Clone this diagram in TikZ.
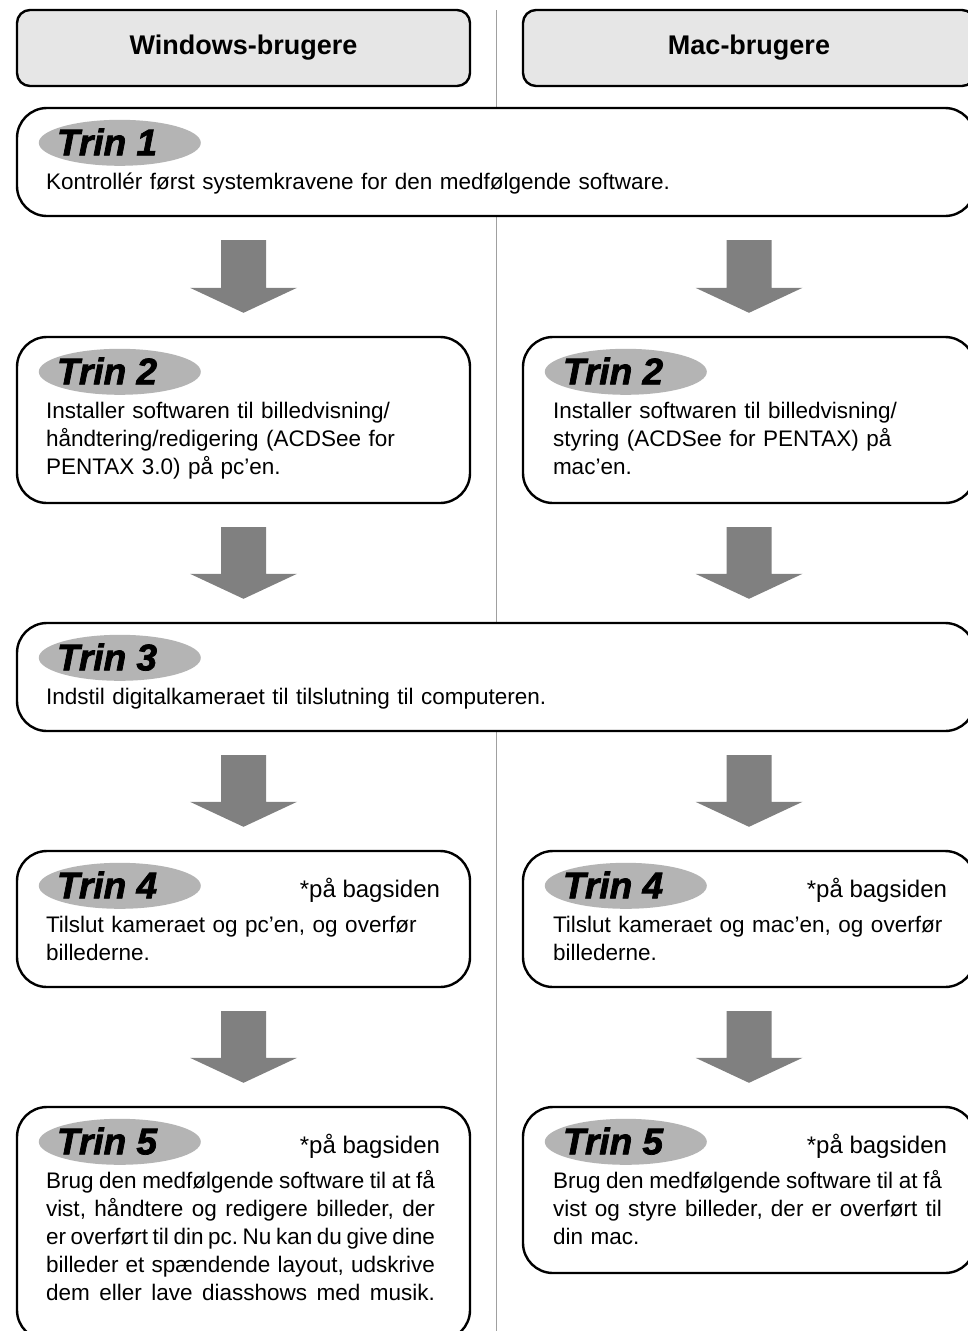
\documentclass[tikz,border=0pt]{standalone}
\usepackage{fontspec}
\setmainfont{Liberation Sans}
\newfontfamily\trinfont[BoldItalicFeatures={FakeBold=2}]{Liberation Sans}
\usetikzlibrary{positioning,calc,shapes.geometric}
\definecolor{hdGray}{RGB}{230,230,230}
\definecolor{tagGray}{RGB}{180,180,180}
\definecolor{arrowGray}{RGB}{128,128,128}
\definecolor{lineGray}{RGB}{160,160,160}
\frenchspacing
% one line set out to the full width of the box text
\newcommand\justline[1]{\leavevmode\hbox to 389pt{\spaceskip=6.25pt plus 6pt minus 3pt\relax #1}}

\begin{document}
\begin{tikzpicture}[
    x=1pt, y=-1pt,
    head box/.style={rectangle, rounded corners=13pt, draw=black, line width=2.4pt, fill=hdGray, minimum height=76pt, font=\fontsize{27}{32}\selectfont\bfseries},
    step box/.style={rectangle, rounded corners=30pt, draw=black, line width=2.4pt, fill=white},
    trin tag/.style={ellipse, fill=tagGray, minimum width=162pt, minimum height=46pt, inner sep=0pt},
    trin text/.style={anchor=base west, inner sep=0pt, font=\trinfont\bfseries\itshape\fontsize{37}{40}\selectfont},
    body text/.style={anchor=base west, inner sep=0pt, text width=440pt, align=left, font=\fontsize{22.5}{28}\selectfont},
    note text/.style={anchor=base east, inner sep=0pt, font=\fontsize{24}{28}\selectfont},
    flow arrow/.style={fill=arrowGray},
    divider/.style={draw=lineGray, line width=1pt}
]
  \useasboundingbox (0,0) rectangle (968,1331);
  \clip (0,0) rectangle (968,1331);
  \draw[divider] (496.5,10) -- (496.5,1331);

  % column heads
  \node[head box, minimum width=453pt] (hw) at (243.5,48) {Windows-brugere};
  \node[head box, minimum width=452pt] (hm) at (749,48) {Mac-brugere};

  % steps
  \node[step box, minimum width=958pt, minimum height=108pt] (t1) at (496,162) {};
  \node[step box, minimum width=453pt, minimum height=166pt] (t2w) at (243.5,420) {};
  \node[step box, minimum width=452pt, minimum height=166pt] (t2m) at (749,420) {};
  \node[step box, minimum width=958pt, minimum height=108pt] (t3) at (496,677) {};
  \node[step box, minimum width=453pt, minimum height=136pt] (t4w) at (243.5,919) {};
  \node[step box, minimum width=452pt, minimum height=136pt] (t4m) at (749,919) {};
  \node[step box, minimum width=453pt, minimum height=233pt] (t5w) at (243.5,1223.5) {};
  \node[step box, minimum width=452pt, minimum height=166pt] (t5m) at (749,1190) {};

  \foreach \b/\n in {t1/1, t2w/2, t2m/2, t3/3, t4w/4, t4m/4, t5w/5, t5m/5} {
    \node[trin tag] (tag-\b) at ($(\b.north west)+(104,36)$) {};
    \node[trin text] (lbl-\b) at ($(\b.north west)+(41,48.5)$) {Trin \n};
  }

  \node[body text, text width=900pt] (txt-t1) at ($(t1.north west)+(30,82.5)$) {Kontrollér først systemkravene for den medfølgende software.};
  \node[body text] (txt-t2w) at ($(t2w.north west)+(30,82.5)$) {Installer softwaren til billedvisning/\\håndtering/redigering (ACDSee for\\PENTAX 3.0) på pc’en.};
  \node[body text] (txt-t2m) at ($(t2m.north west)+(31,82.5)$) {Installer softwaren til billedvisning/\\styring (ACDSee for PENTAX) på\\mac’en.};
  \node[body text, text width=900pt] (txt-t3) at ($(t3.north west)+(30,82.5)$) {Indstil digitalkameraet til tilslutning til computeren.};
  \node[body text] (txt-t4w) at ($(t4w.north west)+(30,82.5)$) {Tilslut kameraet og pc’en, og overfør\\billederne.};
  \node[body text] (txt-t4m) at ($(t4m.north west)+(31,82.5)$) {Tilslut kameraet og mac’en, og overfør\\billederne.};
  \node[body text] (txt-t5w) at ($(t5w.north west)+(30,82.5)$) {\justline{Brug den medfølgende software til at få}\\\justline{vist, håndtere og redigere billeder, der}\\\justline{er overført til din pc. Nu kan du give dine}\\\justline{billeder et spændende layout, udskrive}\\\justline{dem eller lave diasshows med musik.}};
  \node[body text] (txt-t5m) at ($(t5m.north west)+(31,82.5)$) {\justline{Brug den medfølgende software til at få}\\\justline{vist og styre billeder, der er overført til}\\din mac.};

  \foreach \b/\dx in {t4w/-31, t4m/-29, t5w/-31, t5m/-29}
    \node[note text] (note-\b) at ($(\b.north east)+(\dx,48)$) {*på bagsiden};

  % arrows between steps
  \foreach \c/\a/\z in {hw/t1/t2w, hw/t2w/t3, hw/t3/t4w, hw/t4w/t5w, hm/t1/t2m, hm/t2m/t3, hm/t3/t4m, hm/t4m/t5m}
    \fill[flow arrow] ($(\c |- \a.south)+(-22.5,23)$) -- ($(\c |- \z.north)+(-22.5,-48)$)
      -- ($(\c |- \z.north)+(-53.5,-48)$) -- ($(\c |- \z.north)+(0,-23)$)
      -- ($(\c |- \z.north)+(53.5,-48)$) -- ($(\c |- \z.north)+(22.5,-48)$)
      -- ($(\c |- \a.south)+(22.5,23)$) -- cycle;
\end{tikzpicture}
\end{document}
